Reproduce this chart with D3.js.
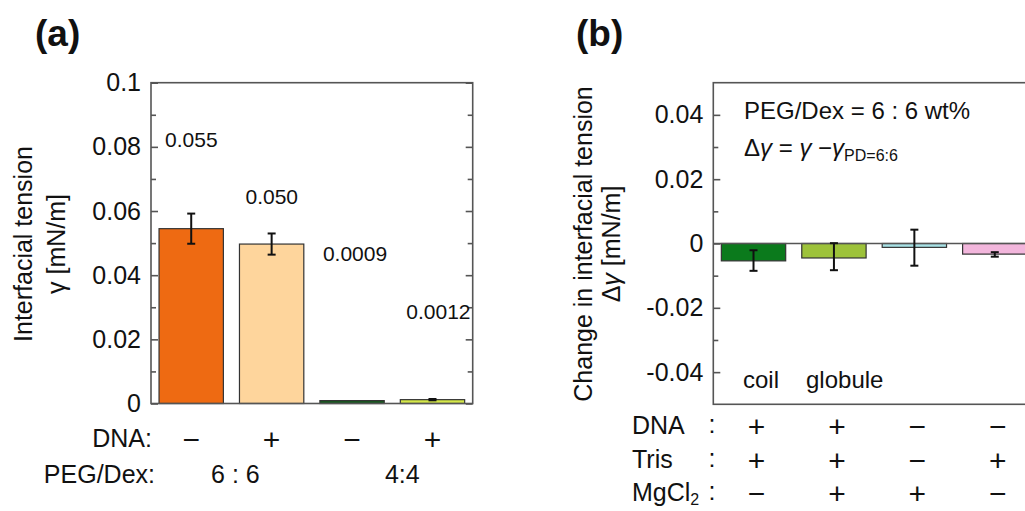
<!DOCTYPE html>
<html>
  <head>
    <meta charset="utf-8">
    <script src="https://d3js.org/d3.v7.min.js"></script>
    <title>Interfacial tension</title>
    <style>
      body { margin: 0; background: #fff; }
      text { font-family: "Liberation Sans", Arial, sans-serif; fill: #111; }
    </style>
  </head>
  <body>
    <svg width="1025" height="511"></svg>
    <script>
      // ---- data, panel (a)
      const catsA = ['a1', 'a2', 'a3', 'a4'];
      const valuesA = [0.0545, 0.0497, 0.0009, 0.0012];
      const errorsA = [0.0047, 0.0033, 0, 0.0002];
      const colorsA = ['#ee6a12', '#fed59c', '#165a1e', '#d5e84a'];
      const valueLabelsA = ['0.055', '0.050', '0.0009', '0.0012'];
      const valueLabelYA = [0.0800, 0.0623, 0.0445, 0.0264];   // label baselines, data units
      const dnaA = ['\u2212', '+', '\u2212', '+'];
      const pegGroupsA = ['6 : 6', '4:4'];
      const ticksA = [0, 0.02, 0.04, 0.06, 0.08, 0.1];
      const tickLabelsA = ['0', '0.02', '0.04', '0.06', '0.08', '0.1'];
      const minorA = [0.01, 0.03, 0.05, 0.07, 0.09];

      // ---- data, panel (b)
      const catsB = ['b1', 'b2', 'b3', 'b4'];
      const valuesB = [-0.0054, -0.0045, -0.0012, -0.0033];
      const errorsB = [0.0032, 0.0042, 0.0056, 0.0007];
      const errCenterB = [-0.0053, -0.0041, -0.0013, -0.0034];
      const colorsB = ['#0b7a1c', '#9dc23a', '#a8e2e6', '#f2b6dc'];
      const rowNamesB = ['DNA', 'Tris', 'MgCl'];
      const rowSignsB = [
        ['+', '+', '\u2212', '\u2212'],
        ['+', '+', '\u2212', '+'],
        ['\u2212', '+', '+', '\u2212']
      ];
      const ticksB = [-0.04, -0.02, 0, 0.02, 0.04];
      const tickLabelsB = ['-0.04', '-0.02', '0', '0.02', '0.04'];
      const minorB = [-0.03, -0.01, 0.01, 0.03];

      const svg = d3.select('svg');

      // ---- panel (a)
      const xA = d3.scaleBand().domain(catsA).range([151, 472.7])
        .paddingInner(0.2).paddingOuter(0.1);
      const yA = d3.scaleLinear().domain([0, 0.1]).range([403.5, 82.7]);

      function drawAxes(x, y, ticks, labels, minor) {
        const [x0, x1] = x.range();
        const [y0, y1] = y.range();
        const g = svg.append('g');
        // inward ticks, left
        g.append('g').attr('transform', `translate(${x0},0)`)
          .call(d3.axisLeft(y).tickValues(ticks).tickSize(-7).tickPadding(10)
            .tickFormat((d, i) => labels[i]))
          .call(s => s.select('.domain').remove())
          .call(s => s.selectAll('text').style('font-size', '25px').attr('fill', '#111')
            .style('font-family', '"Liberation Sans", Arial, sans-serif'));
        g.append('g').attr('transform', `translate(${x0},0)`)
          .call(d3.axisLeft(y).tickValues(minor).tickSize(-5).tickFormat(''))
          .call(s => s.select('.domain').remove());
        // inward ticks, right
        g.append('g').attr('transform', `translate(${x1},0)`)
          .call(d3.axisRight(y).tickValues(ticks).tickSize(-7).tickFormat(''))
          .call(s => s.select('.domain').remove());
        g.append('g').attr('transform', `translate(${x1},0)`)
          .call(d3.axisRight(y).tickValues(minor).tickSize(-5).tickFormat(''))
          .call(s => s.select('.domain').remove());
        g.selectAll('.tick line').attr('stroke', '#555').attr('stroke-width', 1.6);
        g.append('rect')
          .attr('x', x0).attr('y', y1).attr('width', x1 - x0).attr('height', y0 - y1)
          .attr('fill', 'none').attr('stroke', '#555').attr('stroke-width', 1.6);
      }

      svg.append('g').selectAll('rect').data(catsA).join('rect')
        .attr('x', d => xA(d))
        .attr('y', (d, i) => yA(valuesA[i]))
        .attr('width', xA.bandwidth())
        .attr('height', (d, i) => yA(0) - yA(valuesA[i]))
        .attr('fill', (d, i) => colorsA[i])
        .attr('stroke', '#333').attr('stroke-width', 1.2);

      function errorBars(cats, x, y, centers, errs) {
        const g = svg.append('g').attr('stroke', '#111').attr('stroke-width', 2);
        cats.forEach((c, i) => {
          if (!errs[i]) return;
          const cx = x(c) + x.bandwidth() / 2;
          const t = y(centers[i] + errs[i]), b = y(centers[i] - errs[i]);
          g.append('line').attr('x1', cx).attr('x2', cx).attr('y1', t).attr('y2', b);
          g.append('line').attr('x1', cx - 4).attr('x2', cx + 4).attr('y1', t).attr('y2', t);
          g.append('line').attr('x1', cx - 4).attr('x2', cx + 4).attr('y1', b).attr('y2', b);
        });
      }
      errorBars(catsA, xA, yA, valuesA, errorsA);

      drawAxes(xA, yA, ticksA, tickLabelsA, minorA);

      svg.append('g').selectAll('text').data(catsA).join('text')
        .attr('x', d => xA(d) + 6 - (d === 'a3' ? 3 : 0))
        .attr('y', (d, i) => yA(valueLabelYA[i]))
        .style('font-size', '21px')
        .text((d, i) => valueLabelsA[i]);

      // titles
      svg.append('text').attr('x', 35).attr('y', 46)
        .style('font-size', '37px').style('font-weight', 'bold').text('(a)');
      svg.append('text').attr('x', 576).attr('y', 46)
        .style('font-size', '37px').style('font-weight', 'bold').text('(b)');

      // y label (a)
      const ylA = svg.append('g').attr('transform', 'translate(32,244) rotate(-90)');
      ylA.append('text').attr('text-anchor', 'middle').style('font-size', '25px')
        .text('Interfacial tension');
      ylA.append('text').attr('text-anchor', 'middle').attr('y', 33).style('font-size', '25px')
        .text('\u03b3 [mN/m]');

      // category rows (a)
      const signSize = '30px';
      svg.append('text').attr('x', 152).attr('y', 447).attr('text-anchor', 'end')
        .style('font-size', '25px').text('DNA:');
      svg.append('g').selectAll('text').data(catsA).join('text')
        .attr('x', d => xA(d) + xA.bandwidth() / 2)
        .attr('y', 450).attr('text-anchor', 'middle')
        .style('font-size', signSize)
        .text((d, i) => dnaA[i]);
      svg.append('text').attr('x', 155).attr('y', 483).attr('text-anchor', 'end')
        .style('font-size', '25px').text('PEG/Dex:');
      svg.append('g').selectAll('text').data(pegGroupsA).join('text')
        .attr('x', (d, i) => (xA(catsA[2 * i]) + xA(catsA[2 * i + 1]) + xA.bandwidth()) / 2 + (i ? 10 : 4))
        .attr('y', 483).attr('text-anchor', 'middle')
        .style('font-size', '25px')
        .text(d => d);

      // ---- panel (b)
      const xB = d3.scaleBand().domain(catsB).range([713.3, 1035])
        .paddingInner(0.2).paddingOuter(0.1);
      const yB = d3.scaleLinear().domain([-0.05, 0.05]).range([404.3, 82.7]);

      svg.append('g').selectAll('rect').data(catsB).join('rect')
        .attr('x', d => xB(d))
        .attr('y', yB(0))
        .attr('width', xB.bandwidth())
        .attr('height', (d, i) => yB(valuesB[i]) - yB(0))
        .attr('fill', (d, i) => colorsB[i])
        .attr('stroke', '#333').attr('stroke-width', 1.2);

      svg.append('line')
        .attr('x1', xB.range()[0]).attr('x2', xB.range()[1])
        .attr('y1', yB(0)).attr('y2', yB(0))
        .attr('stroke', '#555').attr('stroke-width', 1.6);

      errorBars(catsB, xB, yB, errCenterB, errorsB);
      drawAxes(xB, yB, ticksB, tickLabelsB, minorB);

      // annotations (b)
      svg.append('text').attr('x', 744).attr('y', 119).style('font-size', '24px')
        .text('PEG/Dex = 6 : 6 wt%');
      const dg = svg.append('text').attr('x', 744).attr('y', 156).style('font-size', '24px');
      dg.append('tspan').text('\u0394');
      dg.append('tspan').style('font-style', 'italic').text('\u03b3');
      dg.append('tspan').text(' = ');
      dg.append('tspan').style('font-style', 'italic').text('\u03b3');
      dg.append('tspan').text(' \u2212');
      dg.append('tspan').style('font-style', 'italic').text('\u03b3');
      dg.append('tspan').attr('dy', 5).style('font-size', '16px').text('PD=6:6');

      svg.append('text').attr('x', 743).attr('y', 388).style('font-size', '24px').text('coil');
      svg.append('text').attr('x', 806).attr('y', 388).style('font-size', '24px').text('globule');

      // y label (b)
      const ylB = svg.append('g').attr('transform', 'translate(592,244) rotate(-90)');
      ylB.append('text').attr('text-anchor', 'middle').style('font-size', '25px')
        .text('Change in interfacial tension');
      const l2 = ylB.append('text').attr('text-anchor', 'middle').attr('y', 28).style('font-size', '25px');
      l2.append('tspan').text('\u0394');
      l2.append('tspan').style('font-style', 'italic').text('\u03b3');
      l2.append('tspan').text(' [mN/m]');

      // condition table (b)
      const rowY = [434, 468, 501];
      rowNamesB.forEach((name, r) => {
        const t = svg.append('text').attr('x', 632).attr('y', rowY[r]).style('font-size', '25px');
        t.append('tspan').text(name);
        if (name === 'MgCl') t.append('tspan').attr('dy', 4).style('font-size', '16px').text('2');
        svg.append('text').attr('x', 712).attr('y', rowY[r] - 1).attr('text-anchor', 'middle')
          .style('font-size', '25px').text(':');
        svg.append('g').selectAll('text').data(catsB).join('text')
          .attr('x', d => xB(d) + xB.bandwidth() / 2 + 3)
          .attr('y', rowY[r] + 3).attr('text-anchor', 'middle')
          .style('font-size', signSize)
          .text((d, i) => rowSignsB[r][i]);
      });
    </script>
  </body>
</html>
